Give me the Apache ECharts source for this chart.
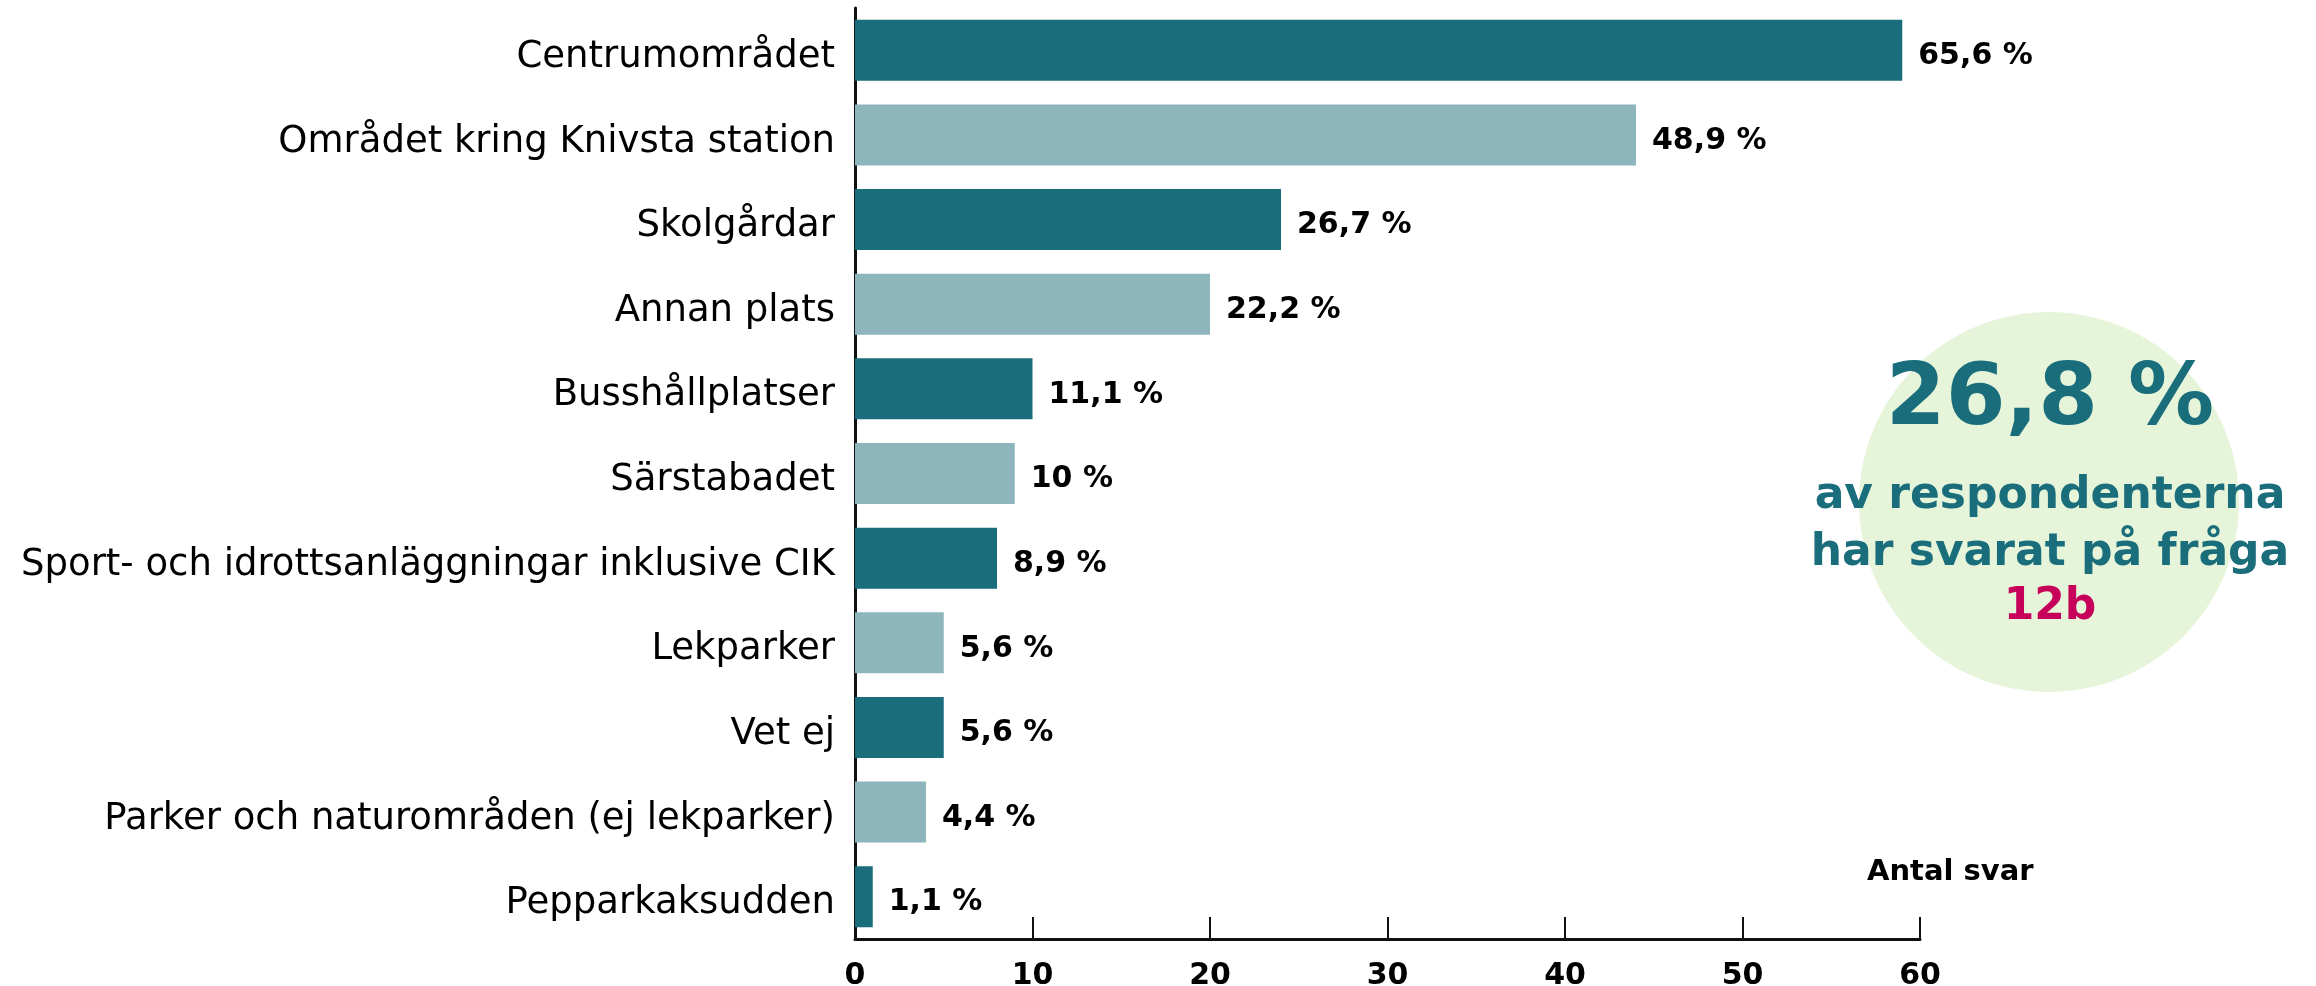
<!DOCTYPE html>
<html>
<head>
<meta charset="utf-8">
<script src="https://cdn.jsdelivr.net/npm/echarts@6/dist/echarts.min.js"></script>
<style>
  html, body { margin: 0; padding: 0; background: #fff; }
  #chart { width: 2316px; height: 986px; }
</style>
</head>
<body>
<div id="chart"></div>
<script>
// kategorier (uppifrån och ned)
const categories = [
  'Centrumområdet',
  'Området kring Knivsta station',
  'Skolgårdar',
  'Annan plats',
  'Busshållplatser',
  'Särstabadet',
  'Sport- och idrottsanläggningar inklusive CIK',
  'Lekparker',
  'Vet ej',
  'Parker och naturområden (ej lekparker)',
  'Pepparkaksudden'
]
// antal svar
const counts = [59, 44, 24, 20, 10, 9, 8, 5, 5, 4, 1]
// andel i procent
const percents = ['65,6', '48,9', '26,7', '22,2', '11,1', '10', '8,9', '5,6', '5,6', '4,4', '1,1']
// x-axelns skala
const xTicks = [0, 10, 20, 30, 40, 50, 60]

const DARK = '#1a6e7c'
const LIGHT = '#8db5bc'
const FONT = "'DejaVu Sans', 'Noto Sans', sans-serif"

const chart = echarts.init(document.getElementById('chart'))

const option = {
  animation: false,
  textStyle: { fontFamily: FONT },
  grid: {
    left: 855,
    right: 396,
    top: 8,
    bottom: 47,
    containLabel: false,
    outerBoundsMode: 'none'
  },
  xAxis: {
    type: 'value',
    min: xTicks[0],
    max: xTicks[xTicks.length - 1],
    interval: 10,
    axisLine: { show: true, lineStyle: { color: '#111', width: 3 } },
    axisTick: { show: true, inside: true, length: 22, lineStyle: { color: '#111', width: 2 } },
    axisLabel: {
      color: '#000',
      fontWeight: 'bold',
      fontSize: 30,
      margin: 22
    },
    splitLine: { show: false }
  },
  yAxis: {
    type: 'category',
    inverse: true,
    data: categories,
    axisLine: { show: true, lineStyle: { color: '#111', width: 3 } },
    axisTick: { show: false },
    axisLabel: {
      margin: 20,
      formatter: '{a|{value}}',
      rich: {
        a: {
          color: '#000',
          fontFamily: FONT,
          fontSize: 37,
          padding: [14, 0, 0, 0]
        }
      }
    }
  },
  series: [
    {
      type: 'bar',
      data: counts,
      barWidth: 61,
      itemStyle: {
        color: (p) => (p.dataIndex % 2 === 0 ? DARK : LIGHT)
      },
      label: {
        show: true,
        position: 'right',
        distance: 16,
        offset: [0, 6],
        color: '#000',
        fontWeight: 'bold',
        fontSize: 30,
        formatter: (p) => percents[p.dataIndex] + ' %'
      }
    }
  ],
  graphic: [
    {
      type: 'text',
      left: 1867,
      top: 858,
      style: { text: 'Antal svar', font: 'bold 29px ' + FONT, fill: '#000' }
    },
    {
      type: 'circle',
      shape: { cx: 2049, cy: 502, r: 190 },
      style: { fill: '#e6f5da' },
      z: -1
    },
    {
      type: 'text',
      x: 2050,
      y: 402,
      style: {
        text: '26,8 %',
        font: '900 86px ' + FONT,
        fill: DARK,
        align: 'center',
        verticalAlign: 'middle'
      }
    },
    {
      type: 'text',
      x: 2050,
      y: 497,
      style: {
        text: 'av respondenterna',
        font: 'bold 44px ' + FONT,
        fill: DARK,
        align: 'center',
        verticalAlign: 'middle'
      }
    },
    {
      type: 'text',
      x: 2050,
      y: 554,
      style: {
        text: 'har svarat på fråga',
        font: 'bold 44px ' + FONT,
        fill: DARK,
        align: 'center',
        verticalAlign: 'middle'
      }
    },
    {
      type: 'text',
      x: 2050,
      y: 608,
      style: {
        text: '12b',
        font: 'bold 44px ' + FONT,
        fill: '#c7005a',
        align: 'center',
        verticalAlign: 'middle'
      }
    }
  ]
}

chart.setOption(option)
</script>
</body>
</html>
